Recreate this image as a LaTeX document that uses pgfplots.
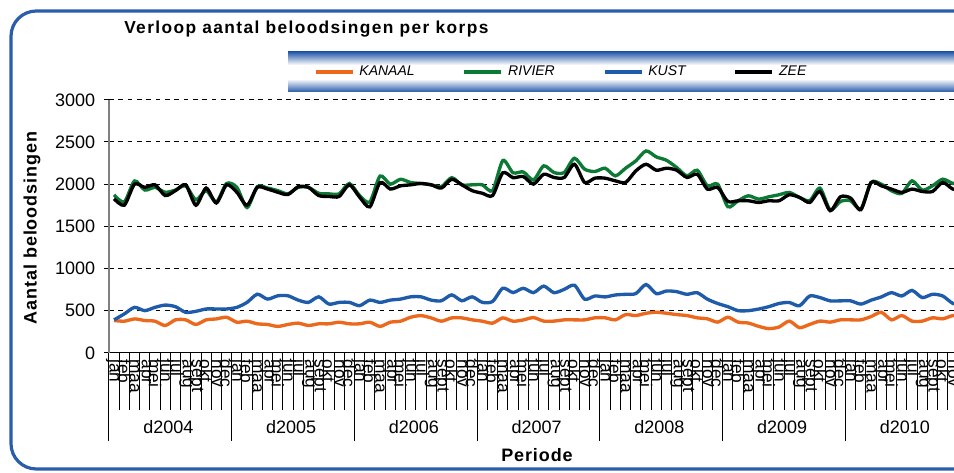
\documentclass[border=0pt]{standalone}
\usepackage{fontspec}
\setmainfont{Liberation Sans}
\usepackage{pgfplots}
\pgfplotsset{compat=1.18}
\usepackage{pgfplotstable}
\definecolor{cKanaal}{RGB}{236,104,28}
\definecolor{cRivier}{RGB}{12,122,52}
\definecolor{cKust}{RGB}{30,92,170}
\definecolor{cBorder}{RGB}{42,94,168}
\definecolor{cLeg}{RGB}{40,90,170}

\pgfplotstableread{
x kanaal rivier kust zee
0.5 383 1873 391 1827
1.5 375 1788 461 1750
2.5 402 2038 539 2000
3.5 383 1930 500 1962
4.5 375 1962 539 1992
5.5 324 1904 566 1865
6.5 391 1930 547 1923
7.5 391 1980 480 1992
8.5 336 1815 492 1750
9.5 391 1923 520 1954
10.5 402 1788 520 1777
11.5 422 2008 520 1992
12.5 363 1962 539 1904
13.5 375 1723 598 1750
14.5 344 1970 695 1962
15.5 336 1954 637 1942
16.5 313 1923 676 1904
17.5 336 1885 676 1877
18.5 352 1962 625 1970
19.5 324 1962 598 1962
20.5 344 1892 664 1865
21.5 344 1885 578 1854
22.5 363 1885 598 1854
23.5 344 2008 598 1992
24.5 344 1865 559 1846
25.5 363 1788 625 1731
26.5 313 2096 598 2019
27.5 363 2000 625 1942
28.5 375 2058 637 1980
29.5 422 2019 664 1992
30.5 441 2008 664 2008
31.5 414 1992 625 1992
32.5 375 1970 617 1954
33.5 414 2077 687 2058
34.5 414 1992 617 1992
35.5 391 1992 664 1923
36.5 375 1992 598 1892
37.5 352 1923 609 1865
38.5 414 2280 766 2135
39.5 375 2135 715 2077
40.5 390 2145 765 2090
41.5 418 2050 714 2000
42.5 376 2217 791 2118
43.5 376 2138 713 2079
44.5 391 2138 752 2079
45.5 391 2307 802 2236
46.5 391 2177 636 2020
47.5 415 2150 674 2071
48.5 415 2189 663 2071
49.5 391 2098 686 2039
50.5 453 2189 694 2020
51.5 442 2276 702 2157
52.5 469 2394 810 2236
53.5 481 2323 702 2165
54.5 469 2283 733 2189
55.5 453 2197 725 2165
56.5 442 2098 694 2079
57.5 415 2165 713 2118
58.5 403 1980 636 1941
59.5 364 2000 585 1961
60.5 422 1732 547 1795
61.5 364 1803 500 1803
62.5 353 1862 500 1803
63.5 314 1823 519 1783
64.5 287 1850 547 1803
65.5 306 1874 585 1803
66.5 376 1902 597 1874
67.5 298 1843 558 1843
68.5 337 1803 674 1783
69.5 376 1953 655 1913
70.5 364 1693 616 1685
71.5 391 1795 616 1850
72.5 391 1803 616 1835
73.5 391 1705 578 1697
74.5 430 2020 624 2020
75.5 481 2000 663 1980
76.5 391 1921 713 1941
77.5 442 1890 674 1902
78.5 376 2039 740 1941
79.5 376 1929 655 1913
80.5 415 1980 694 1913
81.5 403 2059 674 2020
82.5 442 2008 585 1941
83.5 440 2000 570 1940
}\data

\begin{document}
\begin{tikzpicture}[x=0.75pt,y=0.75pt]
\useasboundingbox (0,0) rectangle (954,473);
\clip (0,0) rectangle (954,473);
\fill[white] (0,0) rectangle (954,473);
% outer rounded border
\draw[cBorder, line width=2.4pt, rounded corners=19pt] (11,4) rectangle (1010,462);
% legend background
\fill[white] (288,381) rectangle (1000,421);
\shade[top color=cLeg, bottom color=white] (288,408) rectangle (1000,421);
\shade[top color=white, bottom color=cLeg] (288,381) rectangle (1000,394);
% title
\node[anchor=base west, inner sep=0pt, font=\fontsize{13}{15}\selectfont\bfseries\addfontfeature{LetterSpace=8}] at (124,439) {Verloop aantal beloodsingen per korps};
% y label
\node[rotate=90, inner sep=0pt, font=\fontsize{13.5}{15}\selectfont\bfseries\addfontfeature{LetterSpace=5}] at (32,245) {Aantal beloodsingen};
% x label
\node[inner sep=0pt, font=\fontsize{13.5}{15}\selectfont\bfseries\addfontfeature{LetterSpace=5}] at (537,18) {Periode};
% year labels
\foreach \yr [count=\k from 0] in {2004,2005,2006,2007,2008,2009,2010}{
  \node[inner sep=0pt, font=\fontsize{13.5}{15}\selectfont] at ({107+(6+12*\k)*10.23},46) {d\yr};
}
\begin{axis}[
  at={(106.5,142.5)}, anchor=origin, scale only axis,
  width=644.5pt, height=189.75pt,
  xmin=0, xmax=84, ymin=0, ymax=3000,
  axis x line*=bottom, axis y line*=left,
  x axis line style={black, line width=0.75pt, -},
  y axis line style={gray, line width=1.5pt, -},
  ytick={0,500,...,3000},
  ymajorgrids,
  grid style={black, line width=0.75pt, dash pattern=on 3.5pt off 3.5pt},
  tick align=outside,
  major tick length=3.75pt,
  minor tick length=42.75pt,
  tick style={black, line width=0.75pt},
  xtick={0,...,84},
  minor xtick={0,...,84},
  x tick label as interval,
  xticklabels={jan,feb,maa,apr,mei,jun,jul,aug,sept,okt,nov,dec,
               jan,feb,maa,apr,mei,jun,jul,aug,sept,okt,nov,dec,
               jan,feb,maa,apr,mei,jun,jul,aug,sept,okt,nov,dec,
               jan,feb,maa,apr,mei,jun,jul,aug,sept,okt,nov,dec,
               jan,feb,maa,apr,mei,jun,jul,aug,sept,okt,nov,dec,
               jan,feb,maa,apr,mei,jun,jul,aug,sept,okt,nov,dec,
               jan,feb,maa,apr,mei,jun,jul,aug,sept,okt,nov,dec},
  xticklabel style={rotate=-90, anchor=west, inner sep=1pt, font=\fontsize{13}{13}\selectfont},
  yticklabel style={font=\fontsize{13.5}{15}\selectfont, xshift=-3pt},
  /pgf/number format/assume math mode=true,
  /pgf/number format/1000 sep={},
  extra x ticks={0,12,...,84},
  extra x tick labels={},
  extra x tick style={major tick length=66pt, grid=none},
  legend columns=4,
  legend style={draw=none, fill=none, inner sep=0pt, outer sep=0pt,
     at={(0.2386,1.1107)}, anchor=west,
     font=\fontsize{10.5}{12}\selectfont\itshape,
     nodes={inner sep=0pt}},
  /tikz/every odd column/.append style={column sep=3.75pt},
  /tikz/every even column/.append style={column sep=36pt},
  legend image code/.code={\draw[#1, line width=2.6pt] (0pt,0pt) -- (27.75pt,0pt);},
  every axis plot/.append style={line width=2.5pt, smooth, tension=0.45, no markers},
  clip mode=individual,
]
\addplot[cKanaal] table[x=x, y=kanaal] {\data};
\addplot[cRivier] table[x=x, y=rivier] {\data};
\addplot[cKust] table[x=x, y=kust] {\data};
\addplot[black] table[x=x, y=zee] {\data};
\legend{KANAAL, RIVIER, KUST, ZEE}
\end{axis}
\end{tikzpicture}
\end{document}
